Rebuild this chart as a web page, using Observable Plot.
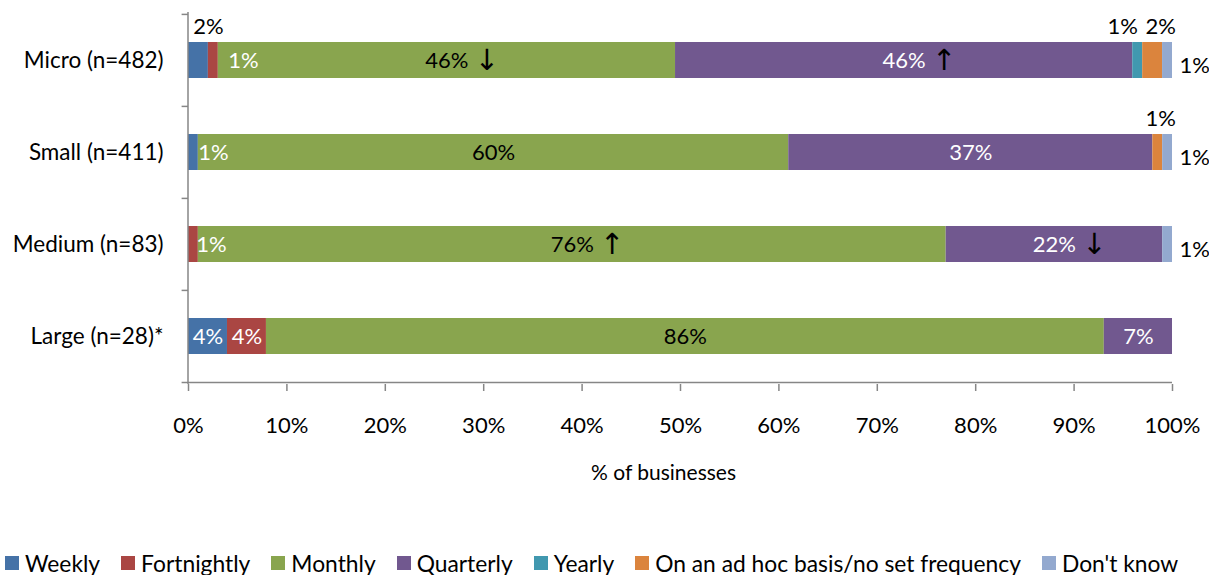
<!DOCTYPE html>
<html><head><meta charset="utf-8">
<script src="https://cdn.jsdelivr.net/npm/d3@7"></script>
<script src="https://cdn.jsdelivr.net/npm/@observablehq/plot@0.6"></script>
<style>
body{margin:0;background:#fff;font-family:Lato,sans-serif;}
#legend{display:flex;align-items:center;margin-top:51px;padding-left:5px;font-size:22.8px;color:#000;white-space:nowrap;line-height:24px}
.item{display:flex;align-items:center;margin-right:21px}
.sw{width:14px;height:14px;margin-right:6px;flex:none}
</style></head><body><div id="chart"></div><div id="legend"></div>
<script>
const categories = ["Micro (n=482)", "Small (n=411)", "Medium (n=83)", "Large (n=28)*"];
const seriesNames = ["Weekly", "Fortnightly", "Monthly", "Quarterly", "Yearly", "On an ad hoc basis/no set frequency", "Don't know"];
const seriesColors = ["#4572A7", "#AA4643", "#89A54E", "#71588F", "#4198AF", "#DB843D", "#93A9CF"];
const weekly      = [2, 1, 0, 4];
const fortnightly = [1, 0, 1, 4];
const monthly     = [46, 60, 76, 86];
const quarterly   = [46, 37, 22, 7];
const yearly      = [1, 0, 0, 0];
const adHoc       = [2, 1, 0, 0];
const dontKnow    = [1, 1, 1, 0];
const monthlyArrows   = ["↓", "", "↑", ""];
const quarterlyArrows = ["↑", "", "↓", ""];
const xTicks = [0, 0.1, 0.2, 0.3, 0.4, 0.5, 0.6, 0.7, 0.8, 0.9, 1];
const xTitle = "% of businesses";

const seriesValues = [weekly, fortnightly, monthly, quarterly, yearly, adHoc, dontKnow];
const data = [];
seriesNames.forEach((s, i) => categories.forEach((c, j) => data.push({
  cat: c, series: s, value: seriesValues[i][j],
  arrow: i === 2 ? monthlyArrows[j] : i === 3 ? quarterlyArrows[j] : ""
})));

const grey = "#868686";
const FS = 22;
const HALF = 46.1;
const stack = (o) => Plot.stackX({x: "value", y: "cat", offset: "normalize", ...o});
const stack2 = (o) => Plot.stackX2({x: "value", y: "cat", offset: "normalize", ...o});
const isIn = (d) => d.value >= 4;

// placement of small-segment labels (style only)
const small = [
  {cat: categories[0], series: seriesNames[0], place: "above", dx: 10},
  {cat: categories[0], series: seriesNames[1], place: "after", dx: 10},
  {cat: categories[0], series: seriesNames[4], place: "above", dx: -15},
  {cat: categories[0], series: seriesNames[5], place: "above", dx: 8},
  {cat: categories[0], series: seriesNames[6], place: "right", dx: 7},
  {cat: categories[1], series: seriesNames[0], place: "after", dx: 0},
  {cat: categories[1], series: seriesNames[5], place: "above", dx: 3},
  {cat: categories[1], series: seriesNames[6], place: "right", dx: 7},
  {cat: categories[2], series: seriesNames[1], place: "after", dx: -2},
  {cat: categories[2], series: seriesNames[6], place: "right", dx: 7},
];
const smallMarks = small.map(p => {
  const txt = d => (d.cat === p.cat && d.series === p.series) ? d.value + "%" : "";
  if (p.place === "above") return Plot.text(data, stack({text: txt, fill: "black", dx: p.dx, dy: -34, fontSize: FS}));
  if (p.place === "after") return Plot.text(data, stack2({text: txt, fill: "white", textAnchor: "start", dx: p.dx, fontSize: FS}));
  return Plot.text(data, stack2({text: txt, fill: "black", textAnchor: "start", dx: p.dx, dy: 5, fontSize: FS}));
});

const chart = Plot.plot({
  width: 1209, height: 500,
  marginLeft: 188, marginRight: 37, marginTop: 12, marginBottom: 116,
  style: {fontFamily: "Lato, sans-serif", fontSize: FS + "px", color: "black", background: "white"},
  x: {domain: [0, 1]},
  y: {domain: categories, paddingInner: 0.61, paddingOuter: 0.322},
  color: {domain: seriesNames, range: seriesColors},
  marks: [
    Plot.barX(data, stack({fill: "series"})),
    Plot.text(data, stack({text: d => isIn(d) ? d.value + "%" : "", fill: d => d.series === "Monthly" ? "black" : "white", fontSize: FS})),
    Plot.text(data, stack({text: d => d.arrow, fill: "black", dx: 40, fontSize: 29, fontFamily: "DejaVu Sans"})),
    ...smallMarks,
    Plot.ruleX([0], {stroke: grey, strokeWidth: 1.5, dx: -0.5}),
    Plot.ruleY(categories, {y: d => d, x1: -0.0065, x2: 0, dy: -HALF, stroke: grey, strokeWidth: 1.5}),
    Plot.ruleY([categories[categories.length - 1]], {y: d => d, x1: -0.0065, x2: 1, dy: HALF, stroke: grey, strokeWidth: 1.5}),
    Plot.axisY({tickSize: 0, tickPadding: 25, fontSize: 22.5, label: null}),
    Plot.axisX({ticks: xTicks, tickFormat: d3.format(".0%"), tickSize: 7, tickPadding: 26, stroke: grey, strokeWidth: 1.5, fontSize: FS, label: null}),
    Plot.text([xTitle], {text: d => d, frameAnchor: "bottom", dx: -17, dy: 95, fontSize: 21})
  ]
});
document.getElementById("chart").appendChild(chart);

const legend = document.getElementById("legend");
seriesNames.forEach((s, i) => {
  const it = document.createElement("div"); it.className = "item";
  const sw = document.createElement("div"); sw.className = "sw"; sw.style.background = seriesColors[i];
  const t = document.createElement("span"); t.textContent = s;
  it.appendChild(sw); it.appendChild(t); legend.appendChild(it);
});
</script></body></html>
